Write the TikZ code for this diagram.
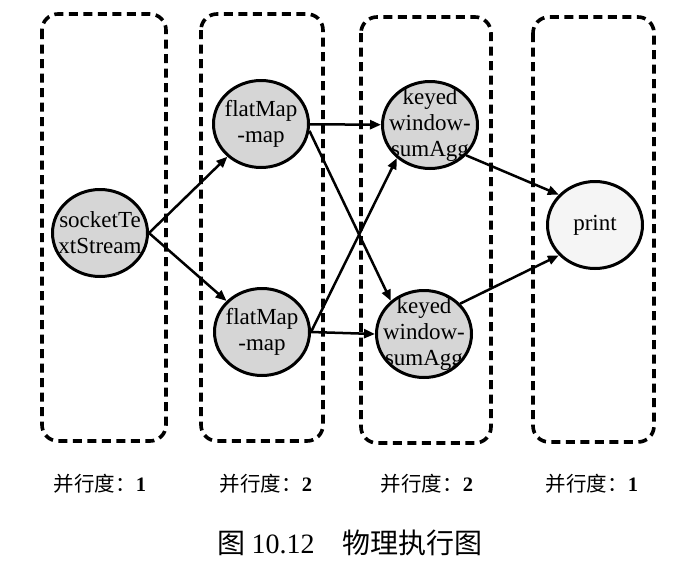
\documentclass[tikz,border=0pt]{standalone}
\usepackage{fontspec}
\setmainfont{Liberation Serif}
\newfontfamily\cjk{Noto Sans CJK SC}
\usetikzlibrary{shapes.geometric,arrows.meta}
\begin{document}
\begin{tikzpicture}[x=1pt,y=-1pt,
  lane/.style={draw, line width=3.6pt, dash pattern=on 9pt off 5.5pt, rounded corners=16pt},
  op/.style={ellipse, draw, line width=3pt, fill=black!16, minimum width=95pt, minimum height=87pt, inner sep=0pt},
  optext/.style={align=center, inner sep=0pt, font=\fontsize{23}{26}\selectfont},
  conn/.style={line width=2.5pt, -{Triangle[length=11pt,width=9pt]}},
  lbl/.style={font=\fontsize{20.5}{24}\selectfont\cjk},
  captiontext/.style={font=\fontsize{28}{32}\selectfont\cjk}
]
\useasboundingbox (0,0) rectangle (698,568);
\fill[white] (0,0) rectangle (698,568);
% lanes
\draw[lane] (42,14) rectangle (166,441);
\draw[lane] (201,14) rectangle (323,441);
\draw[lane] (361,17) rectangle (491,443);
\draw[lane] (533,17) rectangle (654,442);
% operators
\node[op, path picture={\node[optext] (srct) at (path picture bounding box.center) {socketTe\\xtStream};}] (src) at (100,233) {};
\node[op, path picture={\node[optext] (f1t) at (path picture bounding box.center) {flatMap\\-map};}] (f1) at (261,124) {};
\node[op, path picture={\node[optext] (f2t) at (path picture bounding box.center) {flatMap\\-map};}] (f2) at (262,332) {};
\node[op, path picture={\node[optext] (k1t) at (path picture bounding box.center) {keyed\\window-\\sumAgg};}] (k1) at (430,125) {};
\node[op, path picture={\node[optext] (k2t) at (path picture bounding box.center) {keyed\\window-\\sumAgg};}] (k2) at (424,334) {};
\node[op, fill=black!4, path picture={\node[optext] (pt) at (path picture bounding box.center) {print};}] (p) at (595,225) {};
% connectors
\draw[conn] (src.east) -- (f1);
\draw[conn] (src.east) -- (f2);
\draw[conn] (f1) -- (k1);
\draw[conn] (f1.-8) -- (k2.135);
\draw[conn] (f2.east) -- (k1.225);
\draw[conn] (f2.east) -- (k2.west);
\draw[conn] (k1.-40) -- (p.140);
\draw[conn] (k2.40) -- (p.220);
% labels
\node[lbl] (l1) at (100,484) {并行度：\textrm{\bfseries 1}};
\node[lbl] (l2) at (266,484) {并行度：\textrm{\bfseries 2}};
\node[lbl] (l3) at (427,484) {并行度：\textrm{\bfseries 2}};
\node[lbl] (l4) at (592,484) {并行度：\textrm{\bfseries 1}};
\node[captiontext] (c) at (350,543) {图 \textrm{10.12}\hspace{1em}物理执行图};
\end{tikzpicture}
\end{document}
